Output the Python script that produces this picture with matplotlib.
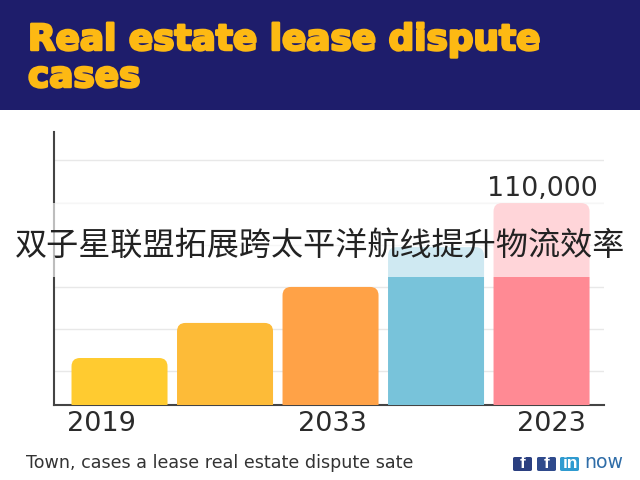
import matplotlib
matplotlib.use('Agg')
from matplotlib import pyplot as plt
from matplotlib.patches import FancyBboxPatch, Rectangle
import matplotlib.patheffects as pe

title_lines = ['Real estate lease dispute', 'cases']
overlay_text = '双子星联盟拓展跨太平洋航线提升物流效率'
footer = 'Town, cases a lease real estate dispute sate'

# 110,000 is the only printed value
values = [25600, 44700, 64300, 86000, 110000]
bar_colors = ['#FFCB30', '#FDBB38', '#FFA247', '#78C3DA', '#FF8A94']
grid_values = [18500, 41400, 64300, 87100, 110000, 133400]
tick_labels = ['2019', '2033', '2023']
tick_pos = [-0.175, 2.02, 4.09]
value_label = '110,000'

W, H = 640, 480
fig = plt.figure(figsize=(6.4, 4.8), dpi=100, facecolor='white')

def px_x(x):
    return x / W

def px_y(y):
    return 1 - y / H

# header band
fig.patches.append(Rectangle((0, px_y(110)), 1, 110 / H, transform=fig.transFigure,
                             facecolor='#1E1D6B', edgecolor='none', zorder=0))
heavy = [pe.withStroke(linewidth=1.8, foreground='#FDB913')]
fig.text(px_x(28), px_y(50), title_lines[0], color='#FDB913', fontsize=25.8,
         family='DejaVu Sans', weight='bold', va='baseline', ha='left', path_effects=heavy)
fig.text(px_x(28), px_y(87), title_lines[1], color='#FDB913', fontsize=25.8,
         family='DejaVu Sans', weight='bold', va='baseline', ha='left', path_effects=heavy)

ax = fig.add_axes([px_x(54), px_y(405), 550 / W, 273 / H])
ax.set_xlim(-0.621, 4.592)
ax.set_ylim(0, 148700)
ax.set_facecolor('none')

for s in ['top', 'right']:
    ax.spines[s].set_visible(False)
for s in ['left', 'bottom']:
    ax.spines[s].set_color('#444444')
    ax.spines[s].set_linewidth(1.5)

ax.set_yticks(grid_values)
ax.set_yticklabels([])
ax.tick_params(axis='y', length=0)
ax.grid(axis='y', color='#E8E8E8', linewidth=1.0)
ax.set_axisbelow(True)

ax.set_xticks(tick_pos)
ax.set_xticklabels(tick_labels, fontsize=19.5, color='#2B2B2B', family='DejaVu Sans')
ax.tick_params(axis='x', length=0, pad=4)

# rounded tops only, the bottom corners stay hidden under the axis clip
bar_w = 0.91
aspect = (148700 / 273) / (5.213 / 550)
for i, v in enumerate(values):
    box = FancyBboxPatch((i - bar_w / 2, -20000), bar_w, v + 20000,
                         boxstyle='round,pad=0,rounding_size=0.08',
                         mutation_aspect=aspect, facecolor=bar_colors[i],
                         edgecolor='none', zorder=3)
    ax.add_patch(box)

ax.text(4.01, 110000 + 800, value_label, ha='center', va='bottom', fontsize=19.3,
        color='#2B2B2B', family='DejaVu Sans')

# washed out strip behind the caption
fig.patches.append(Rectangle((0, px_y(277)), 1, 74 / H, transform=fig.transFigure,
                             facecolor='white', alpha=0.65, edgecolor='none', zorder=5))
fig.text(px_x(320.5), px_y(246), overlay_text, ha='center', va='center', fontsize=23.1, color='#222222',
         family=['Noto Sans CJK SC', 'DejaVu Sans'], zorder=6)

fig.text(px_x(26), px_y(468), footer, fontsize=12.6, color='#333333',
         family='DejaVu Sans', va='baseline', ha='left')

# footer icons
icons = [(513, '#2B3F80', 'f'), (537, '#2F4A8C', 'f'), (560, '#2F9BD0', 'in')]
for x0, c, g in icons:
    fig.patches.append(FancyBboxPatch((px_x(x0), px_y(471)), 19 / W, 14 / H, transform=fig.transFigure,
                                      boxstyle='round,pad=0,rounding_size=0.003',
                                      facecolor=c, edgecolor='none', zorder=2))
    fig.text(px_x(x0 + 10), px_y(464), g, ha='center', va='center', fontsize=12.5, color='white',
             family='Liberation Sans', weight='bold', zorder=3)
fig.text(px_x(584), px_y(468), 'now', fontsize=13.6, color='#2F6DA8', family='DejaVu Sans',
         va='baseline', ha='left')

fig.savefig('out.png', dpi=100)
